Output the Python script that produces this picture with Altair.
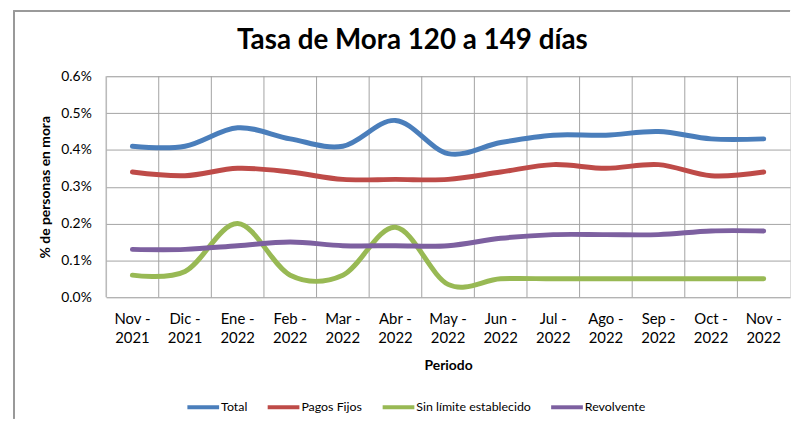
import altair as alt
import pandas as pd

periods = ["Nov - 2021", "Dic - 2021", "Ene - 2022", "Feb - 2022", "Mar - 2022",
           "Abr - 2022", "May - 2022", "Jun - 2022", "Jul - 2022", "Ago - 2022",
           "Sep - 2022", "Oct - 2022", "Nov - 2022"]
series_names = ["Total", "Pagos Fijos", "Sin límite establecido", "Revolvente"]
total = [0.41, 0.41, 0.46, 0.43, 0.41, 0.48, 0.39, 0.42, 0.44, 0.44, 0.45, 0.43, 0.43]
pagos_fijos = [0.34, 0.33, 0.35, 0.34, 0.32, 0.32, 0.32, 0.34, 0.36, 0.35, 0.36, 0.33, 0.34]
sin_limite = [0.06, 0.07, 0.20, 0.06, 0.06, 0.19, 0.035, 0.05, 0.05, 0.05, 0.05, 0.05, 0.05]
revolvente = [0.13, 0.13, 0.14, 0.15, 0.14, 0.14, 0.14, 0.16, 0.17, 0.17, 0.17, 0.18, 0.18]
colors = ["#4a7ebb", "#be4b48", "#98b954", "#7d60a0"]

rows = []
for name, vals in zip(series_names, [total, pagos_fijos, sin_limite, revolvente]):
    for p, v in zip(periods, vals):
        rows.append({"Periodo": p, "Serie": name, "valor": v / 100.0})
df = pd.DataFrame(rows)
cats = pd.DataFrame({"Periodo": periods})

FONT = "Lato"
W, H = 690, 223
GRID = "#a3a3a3"

xscale = alt.Scale(type="band", domain=periods, paddingInner=0, paddingOuter=0)
xaxis = alt.Axis(title="Periodo", labelAngle=0, ticks=False, domain=False, grid=False,
                 labelExpr="[split(datum.label, ' - ')[0] + ' -', split(datum.label, ' - ')[1]]",
                 labelFont=FONT, labelFontSize=15, labelColor="#000000",
                 labelLineHeight=19.5, labelBaseline="top", labelPadding=14,
                 labelOverlap=False,
                 titleFont=FONT, titleFontSize=14, titleFontWeight="bold",
                 titleColor="#000000", titlePadding=13)

vgrid = alt.Chart(cats).mark_rule(color=GRID, strokeWidth=1).encode(
    x=alt.X("Periodo:N", scale=xscale, sort=periods, bandPosition=0, axis=xaxis)
)

lines = alt.Chart(df).mark_line(strokeWidth=5, interpolate="cardinal", strokeCap="round").encode(
    x=alt.X("Periodo:N", scale=xscale, sort=periods, bandPosition=0.5, axis=xaxis),
    y=alt.Y("valor:Q", scale=alt.Scale(domain=[0, 0.006], nice=False),
            axis=alt.Axis(title="% de personas en mora", format=".1%", values=[0, 0.001, 0.002, 0.003, 0.004, 0.005, 0.006],
                          ticks=False, domain=False, gridColor=GRID, gridWidth=1,
                          labelFont=FONT, labelFontSize=14, labelColor="#000000", labelPadding=15,
                          titleFont=FONT, titleFontSize=14, titleFontWeight="bold",
                          titleColor="#000000", titlePadding=8)),
    color=alt.Color("Serie:N", scale=alt.Scale(domain=series_names, range=colors),
                    legend=alt.Legend(title=None, orient="none", direction="horizontal",
                                      legendX=80, legendY=316, symbolType="stroke",
                                      symbolSize=1024, symbolStrokeWidth=4, labelOffset=0,
                                      columnPadding=12, labelFont=FONT, labelFontSize=12.5,
                                      labelColor="#000000")),
    order=alt.Order("Serie:N")
)

frame_left = alt.Chart(cats).mark_rule(color="#9a9a9a", strokeWidth=1.5).encode(
    x=alt.value(-93), y=alt.value(-66), y2=alt.value(345)
)
frame_top = alt.Chart(cats).mark_rule(color="#9a9a9a", strokeWidth=1.5).encode(
    x=alt.value(-93), x2=alt.value(690), y=alt.value(-66)
)

chart = alt.layer(vgrid, lines, frame_left, frame_top).properties(
    width=W, height=H,
    padding={"left": 5, "top": 0, "right": 0, "bottom": 0},
    title=alt.TitleParams("Tasa de Mora 120 a 149 días", font=FONT, fontSize=28,
                          fontWeight="bold", color="#000000", anchor="middle",
                          frame="group", dx=-36, offset=-45),
).configure_view(stroke="#8c8c8c", strokeWidth=1).configure(background="white")

chart.save("out.html", embed_options={"renderer": "svg", "actions": False})
